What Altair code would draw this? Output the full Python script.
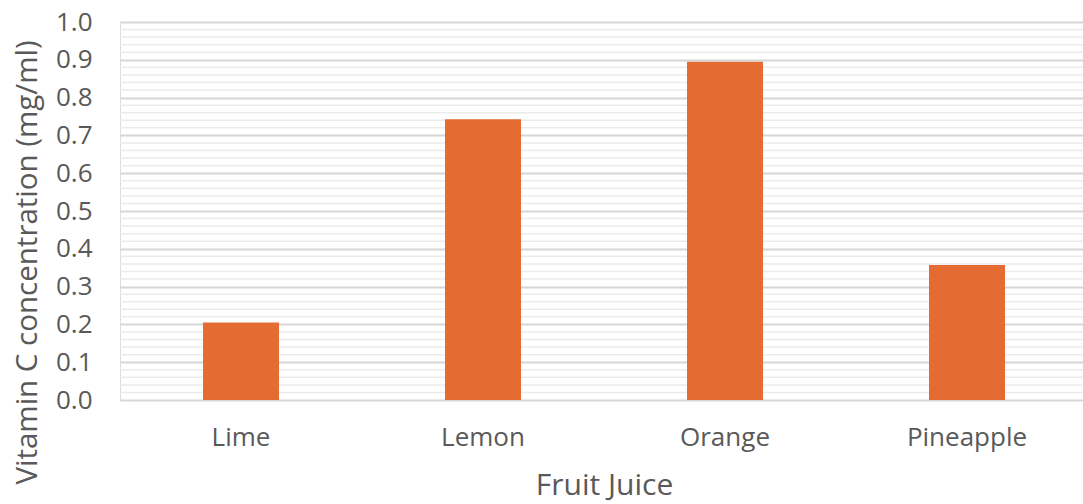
import altair as alt
import pandas as pd

fruits = ["Lime", "Lemon", "Orange", "Pineapple"]
vitamin_c = [0.205, 0.743, 0.895, 0.357]
major_ticks = [0.0, 0.1, 0.2, 0.3, 0.4, 0.5, 0.6, 0.7, 0.8, 0.9, 1.0]
minor_ticks = [round(m + k * 0.02, 2) for m in major_ticks[:-1] for k in (1, 2, 3, 4)]

df = pd.DataFrame({"Fruit Juice": fruits, "value": vitamin_c})
grid_df = pd.DataFrame({"value": minor_ticks})

FONT = "Open Sans"
TXT = "#595959"

yscale = alt.Scale(domain=[0, 1], nice=False, zero=True)
yaxis = alt.Axis(
    title="Vitamin C concentration (mg/ml)",
    values=major_ticks,
    format=".1f",
    labelFont=FONT,
    labelFontSize=26,
    labelColor=TXT,
    labelPadding=28,
    titleFont=FONT,
    titleFontSize=29.5,
    titleFontWeight="normal",
    titleColor=TXT,
    titlePadding=13,
    titleY=240,
    ticks=False,
    domain=False,
    grid=True,
    gridColor="#d6d6d6",
    gridWidth=2,
)

minor = alt.Chart(grid_df).mark_rule(color="#ebebeb", strokeWidth=1.5).encode(
    y=alt.Y("value:Q", scale=yscale, axis=yaxis),
    x=alt.value(0),
    x2=alt.value(963),
)

bars = alt.Chart(df).mark_bar(color="#E46C33").encode(
    x=alt.X(
        "Fruit Juice:N",
        sort=fruits,
        scale=alt.Scale(range=[0, 968], paddingInner=0.686, paddingOuter=0.343),
        axis=alt.Axis(
            title="Fruit Juice",
            labelAngle=0,
            labelFont=FONT,
            labelFontSize=26,
            labelColor=TXT,
            labelPadding=24,
            titleFont=FONT,
            titleFontSize=30,
            titleFontWeight="normal",
            titleColor=TXT,
            titlePadding=20,
            ticks=False,
            domain=False,
            grid=False,
        ),
    ),
    y=alt.Y("value:Q", scale=yscale, axis=yaxis),
)

chart = (
    alt.layer(minor, bars)
    .properties(
        width=963,
        height=378,
        autosize=alt.AutoSizeParams(type="none"),
        padding={"left": 120, "top": 22, "right": 0, "bottom": 104},
    )
    .configure_view(stroke="transparent")
    .configure(background="white")
)

chart.save("out.html", embed_options={"renderer": "svg", "actions": False})
